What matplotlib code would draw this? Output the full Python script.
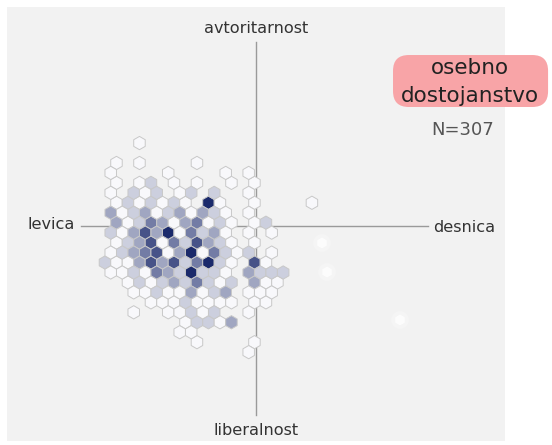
import matplotlib.pyplot as plt
import numpy as np
from matplotlib.patches import FancyBboxPatch, Rectangle
from matplotlib.colors import LinearSegmentedColormap

# ----- Data -----
# hex cells, one string per hex row from the top ('.' = empty, digit = answers in cell)
hex_rows = [
    "...1................",
    "....................",
    ".1.1....1...........",
    "1....1....1.1.......",
    ".1.12.1.1..1.1......",
    "1.212.12.2..1.......",
    ".1212121.61..1....1.",
    "31231231321.1.......",
    ".31243134121.12.....",
    "21353614231.1.1.....",
    ".12351425321.1......",
    "1234513614212.1.....",
    "211353524621.51.....",
    "11214326221.3222....",
    "..1212324212.311....",
    "..112113123.111.....",
    "....11121111.11.....",
    "..1..11212..1.......",
    ".......12213........",
    "......11............",
    "........1....1......",
    "............1.......",
    "....................",
]
# hex grid in data units (x: levica -> desnica, y: liberalnost -> avtoritarnost)
hex_w = 0.0657
grid_left = -0.863
grid_top = 0.474

# single answers drawn faintly outside the grid
faint_x = [0.377, 0.406, 0.823]
faint_y = [-0.097, -0.263, -0.537]

title_lines = ["osebno", "dostojanstvo"]
n_label = "N=307"

# ----- Build cell centres -----
row_h = hex_w * np.sqrt(3) / 2
xs, ys, cs = [], [], []
for r, row in enumerate(hex_rows):
    for c, ch in enumerate(row):
        if ch != '.':
            xs.append(grid_left + (c + 0.5 * (r % 2)) * hex_w)
            ys.append(grid_top - r * row_h)
            cs.append(int(ch))

# ----- Plotting -----
fig = plt.figure(figsize=(5.52, 4.45), dpi=100)
ax = fig.add_axes([0, 0, 1, 1])
ax.axis('off')

# grey panel
ax.add_patch(Rectangle((-249 / 175, -215 / 175), 498 / 175, 434 / 175,
                       facecolor='#f2f2f2', edgecolor='none', zorder=0))

# cross
ax.plot([-1.0, 0.985], [0, 0], color='#9a9a9a', lw=1, zorder=1)
ax.plot([0, 0], [-1.08, 1.05], color='#9a9a9a', lw=1, zorder=1)

cmap = LinearSegmentedColormap.from_list('wb', ['#f8f8fb', '#1b2a6b'])
n_rows = len(hex_rows)
ymin = grid_top - (n_rows - 1) * row_h
ax.hexbin(xs, ys, C=cs, reduce_C_function=np.sum,
          gridsize=(20, (n_rows - 1) // 2),
          extent=(grid_left, grid_left + 20 * hex_w, ymin, grid_top),
          cmap=cmap, vmin=1, vmax=6, edgecolors='#c8c8c8', linewidths=0.7,
          zorder=3)

ax.scatter(faint_x, faint_y, s=160, marker='o', color='white', alpha=0.25,
           edgecolors='none', zorder=2)
ax.scatter(faint_x, faint_y, s=60, marker='h', color='white', alpha=0.8,
           edgecolors='none', zorder=2)

lab = dict(fontsize=11.6, color='#333333')
ax.text(0, 1.13, "avtoritarnost", ha='center', va='center', **lab)
ax.text(0, -1.17, "liberalnost", ha='center', va='center', **lab)
ax.text(-1.034, 0.01, "levica", ha='right', va='center', **lab)
ax.text(1.011, -0.011, "desnica", ha='left', va='center', **lab)

# title badge
ax.add_patch(FancyBboxPatch((0.783, 0.68), 0.886, 0.297,
                            boxstyle="round,pad=0,rounding_size=0.09",
                            facecolor='#f8a4a7', edgecolor='none', zorder=4))
ax.text(1.223, 0.905, title_lines[0], ha='center', va='center',
        fontsize=15.5, color='#222222', zorder=5)
ax.text(1.223, 0.745, title_lines[1], ha='center', va='center',
        fontsize=15.5, color='#222222', zorder=5)
ax.text(1.183, 0.549, n_label, ha='center', va='center',
        fontsize=13, color='#555555', zorder=5)

ax.set_xlim(-256 / 175, 296 / 175)
ax.set_ylim(-219 / 175, 226 / 175)

fig.savefig('out.png', dpi=100)
